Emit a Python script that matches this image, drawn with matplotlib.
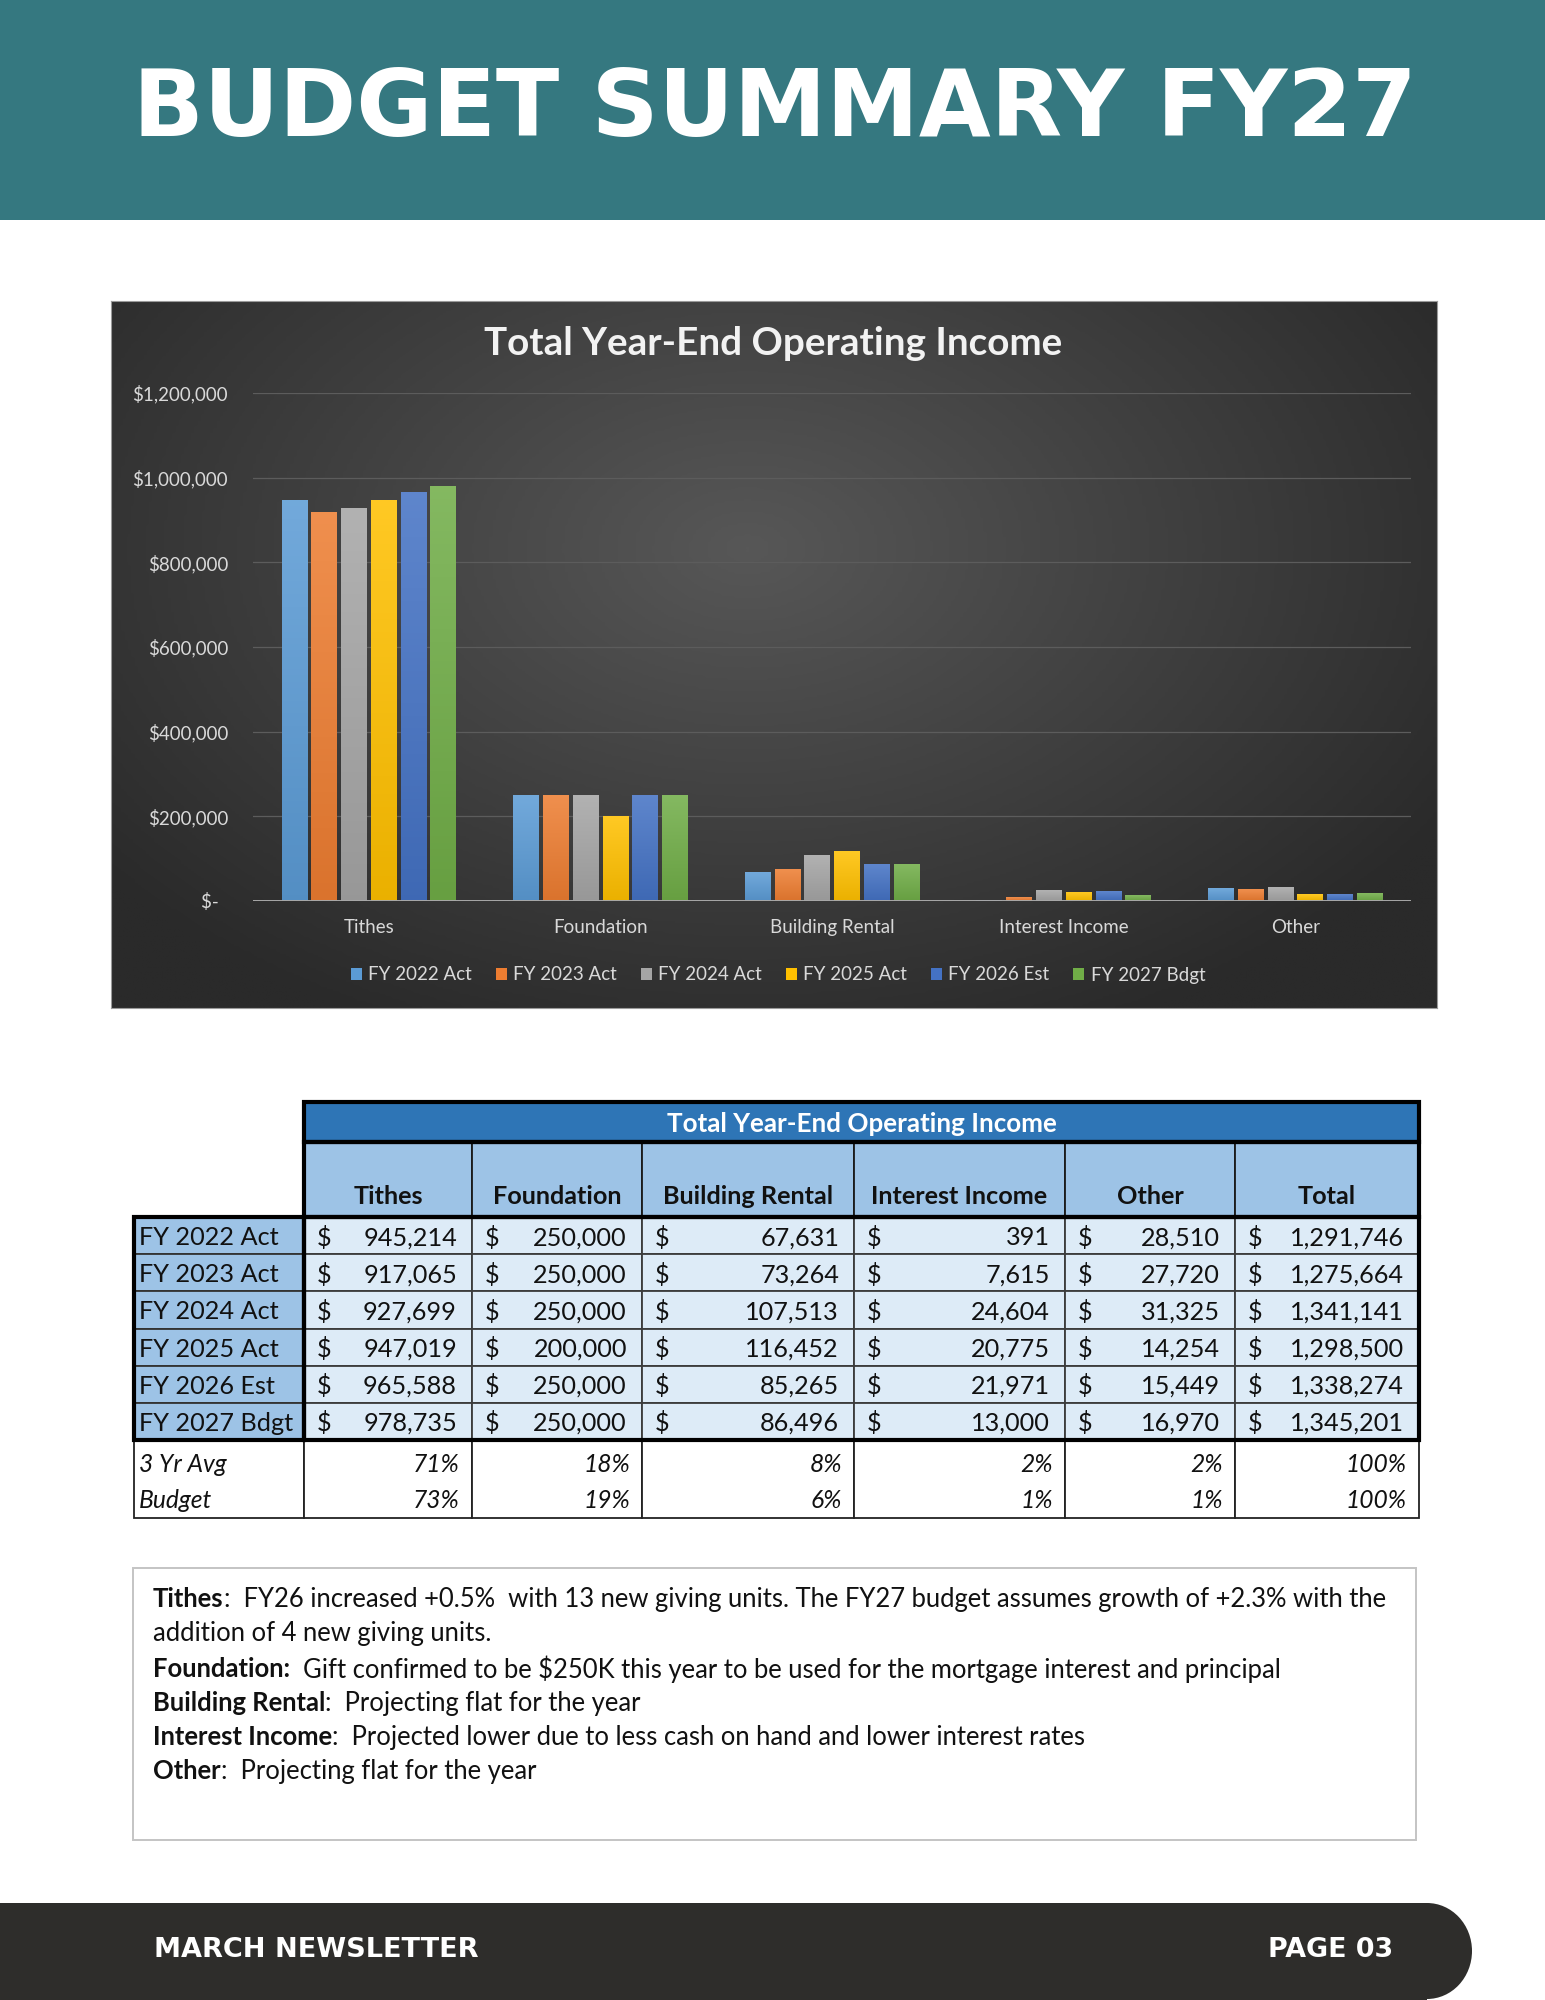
import numpy as np
import matplotlib
matplotlib.use("Agg")
import matplotlib.pyplot as plt
from matplotlib.patches import Rectangle, Patch, Ellipse
from matplotlib.colors import LinearSegmentedColormap, to_rgb

# ---------------- data ----------------
categories = ["Tithes", "Foundation", "Building Rental", "Interest Income", "Other"]
series_names = ["FY 2022 Act", "FY 2023 Act", "FY 2024 Act", "FY 2025 Act", "FY 2026 Est", "FY 2027 Bdgt"]
fy2022 = [945214, 250000, 67631, 391, 28510]
fy2023 = [917065, 250000, 73264, 7615, 27720]
fy2024 = [927699, 250000, 107513, 24604, 31325]
fy2025 = [947019, 200000, 116452, 20775, 14254]
fy2026 = [965588, 250000, 85265, 21971, 15449]
fy2027 = [978735, 250000, 86496, 13000, 16970]
totals = [1291746, 1275664, 1341141, 1298500, 1338274, 1345201]
table_cols = ["Tithes", "Foundation", "Building Rental", "Interest Income", "Other", "Total"]
avg3_label = "3 Yr Avg"
avg3_pct = ["71%", "18%", "8%", "2%", "2%", "100%"]
budget_label = "Budget"
budget_pct = ["73%", "19%", "6%", "1%", "1%", "100%"]
yticks = [0, 200000, 400000, 600000, 800000, 1000000, 1200000]

page_title = "BUDGET SUMMARY FY27"
chart_title = "Total Year-End Operating Income"
notes = [
    [("Tithes", True), (":  FY26 increased +0.5%  with 13 new giving units. The FY27 budget assumes growth of +2.3% with the", False)],
    [("addition of 4 new giving units.", False)],
    [("Foundation:", True), ("  Gift confirmed to be $250K this year to be used for the mortgage interest and principal", False)],
    [("Building Rental", True), (":  Projecting flat for the year", False)],
    [("Interest Income", True), (":  Projected lower due to less cash on hand and lower interest rates", False)],
    [("Other", True), (":  Projecting flat for the year", False)],
]
footer_left = "MARCH NEWSLETTER"
footer_right = "PAGE 03"

series_vals = [fy2022, fy2023, fy2024, fy2025, fy2026, fy2027]
colors = ["#5B9BD5", "#ED7D31", "#A5A5A5", "#FFC000", "#4472C4", "#70AD47"]

W, H = 1545, 2000
CAL = ["Lato", "DejaVu Sans"]
HEAD = ["DejaVu Sans"]

fig = plt.figure(figsize=(W / 100, H / 100), dpi=100)
fig.patch.set_facecolor("white")
renderer = fig.canvas.get_renderer()

def fit_width(t, target):
    bb = t.get_window_extent(renderer)
    t.set_fontsize(t.get_fontsize() * target / bb.width)

# page overlay axes in pixel coords
ax0 = fig.add_axes([0, 0, 1, 1])
ax0.set_xlim(0, W)
ax0.set_ylim(H, 0)
ax0.axis("off")

# header band
ax0.add_patch(Rectangle((0, 0), W, 220, facecolor="#357880", edgecolor="none"))
t = ax0.text(775, 110, page_title, color="white", fontsize=60, fontweight="bold",
             family=HEAD, ha="center", va="center")
fit_width(t, 1284)

# footer band
ax0.add_patch(Rectangle((0, 1903), 1427, 97, facecolor="#2E2D2B", edgecolor="none"))
ax0.add_patch(Ellipse((1427, 1951), 90, 96, facecolor="#2E2D2B", edgecolor="none"))
t = ax0.text(154, 1950, footer_left, color="white", fontsize=20, fontweight="bold",
             family=HEAD, ha="left", va="center")
fit_width(t, 324)
t = ax0.text(1393, 1950, footer_right, color="white", fontsize=20, fontweight="bold",
             family=HEAD, ha="right", va="center")
fit_width(t, 125)

# ---------------- chart ----------------
cx0, cx1, cy0, cy1 = 111, 1437, 301, 1008
bgax = fig.add_axes([cx0 / W, 1 - cy1 / H, (cx1 - cx0) / W, (cy1 - cy0) / H])
gy, gx = np.mgrid[0:1:300j, 0:1:400j]
r = np.sqrt(((gx - 0.48) / 0.62) ** 2 + ((gy - 0.35) / 0.75) ** 2)
r = np.clip(r, 0, 1)
bgcmap = LinearSegmentedColormap.from_list("bg", ["#575757", "#2a2a2a"])
bgax.imshow(r, cmap=bgcmap, aspect="auto", extent=[0, 1, 0, 1], origin="upper")
bgax.set_xticks([]); bgax.set_yticks([])
for s in bgax.spines.values():
    s.set_color("#9a9a9a"); s.set_linewidth(0.8)

px0, px1, py0, py1 = 253, 1411, 393, 901
ax = fig.add_axes([px0 / W, 1 - py1 / H, (px1 - px0) / W, (py1 - py0) / H])
ax.patch.set_alpha(0)
x = np.arange(len(categories))
slot, bw = 0.1285, 0.11
n = len(series_vals)

def blend(c, other, f):
    c = np.array(to_rgb(c)); o = np.array(to_rgb(other))
    return tuple(c * (1 - f) + o * f)

grad = np.linspace(0, 1, 64).reshape(-1, 1)
for i, (vals, col, name) in enumerate(zip(series_vals, colors, series_names)):
    bars = ax.bar(x + (i - (n - 1) / 2) * slot, vals, bw, color=col, label=name, zorder=2)
    cm = LinearSegmentedColormap.from_list("g%d" % i, [blend(col, "black", 0.08), blend(col, "white", 0.14)])
    for rect in bars:
        bx, bwid, bh = rect.get_x(), rect.get_width(), rect.get_height()
        ax.imshow(grad, extent=[bx, bx + bwid, 0, bh], origin="lower", aspect="auto",
                  cmap=cm, zorder=2.5)

ax.set_xlim(-0.5, len(categories) - 0.5)
ax.set_ylim(0, 1200000)
ax.set_yticks(yticks)
ax.set_yticklabels(["${:,.0f}".format(v) if v else "$-  " for v in yticks])
ax.set_xticks(x)
ax.set_xticklabels(categories)
ax.grid(axis="y", color="#5c5c5c", linewidth=0.9, zorder=0)
ax.set_axisbelow(True)
ax.axhline(0, color="#a8a8a8", linewidth=1.4, zorder=3)
for s in ax.spines.values():
    s.set_visible(False)
ax.tick_params(axis="both", length=0, colors="#d9d9d9", labelsize=13.5)
ax.tick_params(axis="y", pad=18)
ax.tick_params(axis="x", pad=13)
for lab in ax.get_xticklabels() + ax.get_yticklabels():
    lab.set_family(CAL)

t = fig.text(773 / W, 1 - 344 / H, chart_title, color="#f2f2f2", fontsize=21,
             fontweight="bold", family=CAL, ha="center", va="center")
fit_width(t, 578)

handles = [Patch(facecolor=c, edgecolor="none") for c in colors]
fig.legend(handles, series_names, loc="center", bbox_to_anchor=(778 / W, 1 - 975 / H),
           ncol=6, frameon=False, prop={"family": CAL, "size": 13.5}, labelcolor="#d9d9d9",
           handlelength=0.6, handleheight=0.6, handletextpad=0.35, columnspacing=1.25)

# ---------------- table ----------------
col_edges = [134, 304, 472, 642, 854, 1065, 1235, 1419]
y_title0, y_title1 = 1102, 1142
y_head1 = 1217
y_data1 = 1440
y_bot1 = 1518
nrows = len(series_names)
row_h = (y_data1 - y_head1) / nrows
FS = 18.2
DY = 2

C_TITLE, C_HEAD, C_DATA = "#2E75B6", "#9DC3E6", "#DDEBF7"
tx0, tx1 = col_edges[1], col_edges[-1]

ax0.add_patch(Rectangle((tx0, y_title0), tx1 - tx0, y_title1 - y_title0, facecolor=C_TITLE,
                        edgecolor="none"))
t = ax0.text((tx0 + tx1) / 2, (y_title0 + y_title1) / 2 + 2, chart_title, color="white",
             fontsize=16, fontweight="bold", family=CAL, ha="center", va="center")
fit_width(t, 390)

# header cells
for j, name in enumerate(table_cols):
    a, b = col_edges[j + 1], col_edges[j + 2]
    ax0.add_patch(Rectangle((a, y_title1), b - a, y_head1 - y_title1, facecolor=C_HEAD,
                            edgecolor="#1a1a1a", linewidth=1.3))
    ax0.text((a + b) / 2, 1196, name, fontsize=FS, fontweight="bold", family=CAL,
             ha="center", va="center", color="#111111")

# data rows
rows = [[series_vals[i][k] for k in range(len(categories))] + [totals[i]] for i in range(nrows)]
for i, name in enumerate(series_names):
    y0 = y_head1 + i * row_h
    yc = y0 + row_h / 2 + DY
    ax0.add_patch(Rectangle((col_edges[0], y0), col_edges[1] - col_edges[0], row_h,
                            facecolor=C_HEAD, edgecolor="#333333", linewidth=1.3))
    ax0.text(col_edges[0] + 5, yc, name, fontsize=FS, family=CAL, ha="left", va="center",
             color="#111111")
    for j, v in enumerate(rows[i]):
        a, b = col_edges[j + 1], col_edges[j + 2]
        ax0.add_patch(Rectangle((a, y0), b - a, row_h, facecolor=C_DATA,
                                edgecolor="#3c3c3c", linewidth=1.3))
        ax0.text(a + 13, yc, "$", fontsize=FS, family=CAL, ha="left", va="center",
                 color="#111111", parse_math=False)
        ax0.text(b - 15, yc, "{:,}".format(v), fontsize=FS, family=CAL, ha="right",
                 va="center", color="#111111")

# thick outlines
def outline(x0, y0, x1, y1, lw=3.0):
    ax0.add_patch(Rectangle((x0, y0), x1 - x0, y1 - y0, facecolor="none",
                            edgecolor="black", linewidth=lw, zorder=5))

outline(tx0, y_title0, tx1, y_title1)
outline(tx0, y_title1, tx1, y_head1)

# bottom percentage rows
for j in range(len(col_edges) - 1):
    a, b = col_edges[j], col_edges[j + 1]
    ax0.add_patch(Rectangle((a, y_data1), b - a, y_bot1 - y_data1, facecolor="white",
                            edgecolor="#222222", linewidth=1.3, zorder=4))
yA, yB = 1465, 1500
PFS = FS - 0.5
ax0.text(col_edges[0] + 5, yA, avg3_label, fontsize=PFS, style="italic", family=CAL,
         ha="left", va="center", color="#111111", zorder=6)
ax0.text(col_edges[0] + 5, yB, budget_label, fontsize=PFS, style="italic", family=CAL,
         ha="left", va="center", color="#111111", zorder=6)
for j in range(len(table_cols)):
    b = col_edges[j + 2]
    ax0.text(b - 12, yA, avg3_pct[j], fontsize=PFS, style="italic", family=CAL,
             ha="right", va="center", color="#111111", zorder=6)
    ax0.text(b - 12, yB, budget_pct[j], fontsize=PFS, style="italic", family=CAL,
             ha="right", va="center", color="#111111", zorder=6)
outline(tx0, y_head1, tx1, y_data1)
outline(col_edges[0], y_head1, col_edges[1], y_data1)

# ---------------- notes box ----------------
ax0.add_patch(Rectangle((133, 1568), 1416 - 133, 1840 - 1568, facecolor="white",
                        edgecolor="#c4c4c4", linewidth=1.4))
line_y = [1597, 1632, 1667, 1701, 1735, 1769]
NFS = 16.5
first = []
xx = 153
for seg, bold in notes[0]:
    tt = ax0.text(xx, line_y[0], seg, fontsize=NFS, fontweight="bold" if bold else "normal",
                  family=CAL, ha="left", va="center", color="#111111", parse_math=False)
    first.append(tt)
    xx += tt.get_window_extent(renderer).width
total_w = xx - 153
scale = 1236 / total_w
for tt in first:
    tt.remove()
NFS = NFS * scale
for k, segs in enumerate(notes):
    xx = 153
    for seg, bold in segs:
        tt = ax0.text(xx, line_y[k] + 2, seg, fontsize=NFS, fontweight="bold" if bold else "normal",
                      family=CAL, ha="left", va="center", color="#111111", parse_math=False)
        xx += tt.get_window_extent(renderer).width

fig.savefig("out.png", dpi=100, facecolor="white")
